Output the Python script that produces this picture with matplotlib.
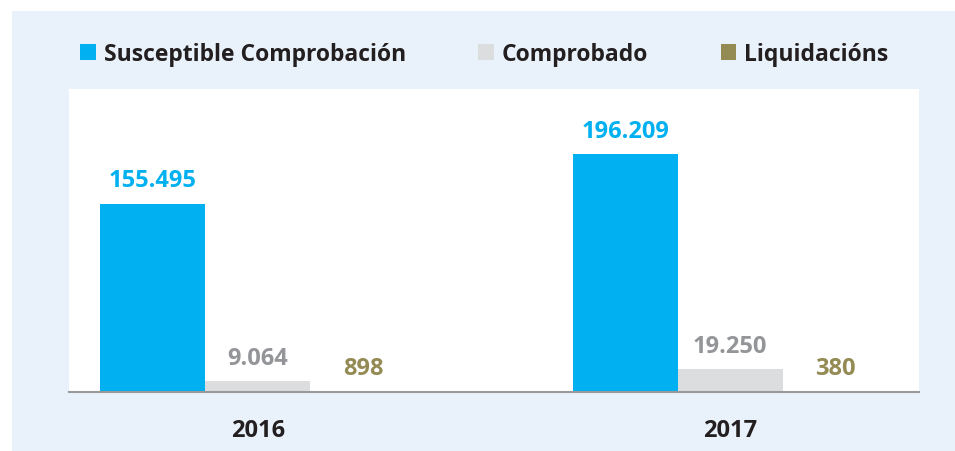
import matplotlib.pyplot as plt
import matplotlib.patches as mpatches
import numpy as np

years = ['2016', '2017']
susceptible = [155495, 196209]
comprobado = [9064, 19250]
liquidacions = [898, 380]
series_names = ['Susceptible Comprobación', 'Comprobado', 'Liquidacións']

bar_colors = ['#00B0F0', '#DCDDDE', '#948A54']
label_colors = ['#00B0F0', '#939598', '#948A54']

plt.rcParams['font.family'] = ['Open Sans', 'DejaVu Sans']

fig = plt.figure(figsize=(9.55, 4.52), dpi=100, facecolor='white')
# light blue panel behind everything
fig.patches.append(mpatches.Rectangle((12/955, 0), 1, 1 - 12/452,
                                      transform=fig.transFigure,
                                      facecolor='#E9F1FA', edgecolor='none', zorder=-5))

ax = fig.add_axes([69/955, (452-393)/452, (919-69)/955, (393-90)/452])
ax.set_facecolor('white')

x = np.arange(len(years))
w = 0.2225
all_vals = [susceptible, comprobado, liquidacions]
for k, vals in enumerate(all_vals):
    pos = x + (k - 1) * w
    bars = ax.bar(pos, vals, w, color=bar_colors[k], label=series_names[k], zorder=2)
    for b, v in zip(bars, vals):
        txt = f'{v:,}'.replace(',', '.')
        ax.annotate(txt, (b.get_x() + b.get_width()/2, b.get_height()),
                    xytext=(0, 8), textcoords='offset points',
                    ha='center', va='bottom', fontsize=17, fontweight='bold',
                    color=label_colors[k])

ax.set_xlim(-0.4, 1.4)
ax.set_ylim(0, 250000)
ax.set_yticks([])
ax.set_xticks(x)
ax.set_xticklabels(years, fontsize=17, fontweight='bold', color='#231F20')
ax.tick_params(axis='x', length=0, pad=19)
for s in ['left', 'right', 'top']:
    ax.spines[s].set_visible(False)
ax.spines['bottom'].set_color('#9A9A9A')
ax.spines['bottom'].set_linewidth(1.5)
ax.spines['bottom'].set_zorder(3)

handles, labels = ax.get_legend_handles_labels()
leg = fig.legend(handles, labels, ncol=3, loc='center left',
                 bbox_to_anchor=(80/955, 1 - 55/452), frameon=False,
                 prop={'size': 16.5, 'weight': 'bold'},
                 handlelength=0.68, handleheight=0.68, handletextpad=0.36,
                 columnspacing=3.15, borderpad=0, borderaxespad=0)
for t in leg.get_texts():
    t.set_color('#231F20')

fig.savefig('out.png', dpi=100, facecolor='white')
